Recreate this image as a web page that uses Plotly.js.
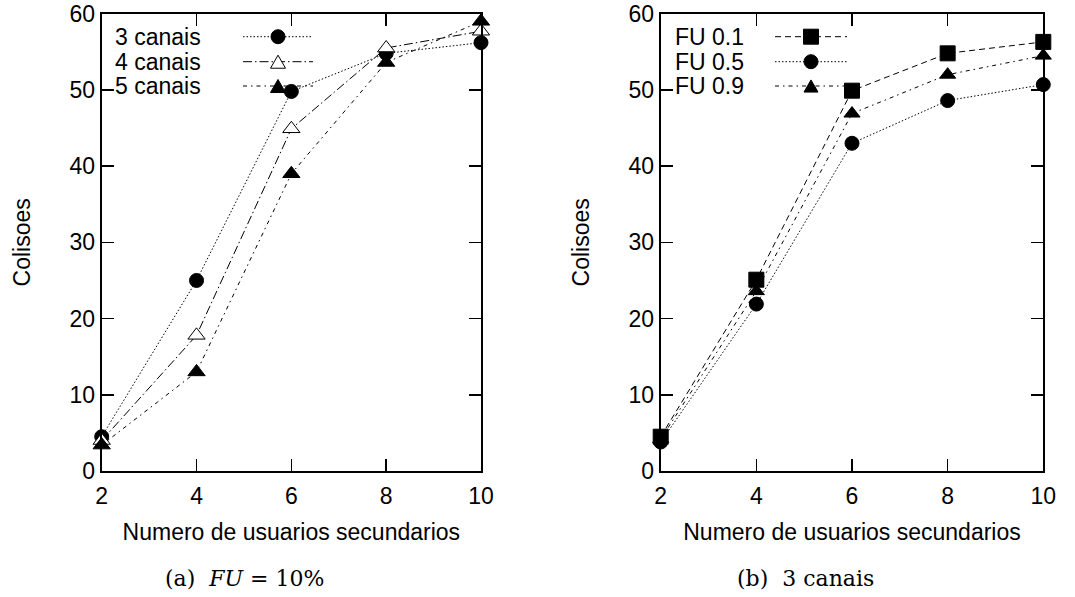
<!DOCTYPE html>
<html>
<head>
<meta charset="utf-8">
<script src="https://cdn.plot.ly/plotly-3.0.1.min.js"></script>
<style>html,body{margin:0;padding:0;background:#fff}#chart{width:1075px;height:597px}</style>
</head>
<body>
<div id="chart"></div>
<script>
// ---- data ----
const usuarios = [2, 4, 6, 8, 10];
const canais3 = [4.5, 25.0, 49.8, 54.8, 56.2];
const canais4 = [4.0, 17.8, 44.9, 55.5, 57.7];
const canais5 = [3.4, 13.0, 39.0, 53.6, 59.0];
const fu01 = [4.5, 25.1, 49.9, 54.8, 56.3];
const fu05 = [3.8, 21.9, 43.0, 48.6, 50.7];
const fu09 = [4.2, 23.6, 46.9, 52.0, 54.5];
const namesA = ['3 canais', '4 canais', '5 canais'];
const namesB = ['FU 0.1', 'FU 0.5', 'FU 0.9'];
const xTicks = [2, 4, 6, 8, 10];
const yTicks = [0, 10, 20, 30, 40, 50, 60];

// ---- styles ----
const W = 1075, H = 597;
const fx = p => p / W, fy = p => 1 - p / H;
const FONT = 'Liberation Sans, Arial, sans-serif';
const SERIF = 'DejaVu Serif, Liberation Serif, serif';
const FS = 23;
const dotted = '1.5px,2px';
const longDashDot = '9px,3px,1.5px,3px';
const dashDot = '4px,4px,1.5px,4px';
const dashed = '6px,4px';

const stylesA = [
  {dash: dotted, symbol: 'circle', fill: '#000', size: 14},
  {dash: longDashDot, symbol: 'triangle-up', fill: '#fff', size: 15},
  {dash: dashDot, symbol: 'triangle-up', fill: '#000', size: 15}
];
const stylesB = [
  {dash: dashed, symbol: 'square', fill: '#000', size: 15},
  {dash: dotted, symbol: 'circle', fill: '#000', size: 14},
  {dash: dashDot, symbol: 'triangle-up', fill: '#000', size: 14}
];

function mk(y, name, st, xa, ya) {
  return {
    x: usuarios, y: y, name: name, type: 'scatter', mode: 'lines+markers',
    xaxis: xa, yaxis: ya, cliponaxis: false, showlegend: false,
    line: {color: '#000', width: 1, dash: st.dash},
    marker: {symbol: st.symbol, size: st.size, color: st.fill, line: {color: '#000', width: 1}}
  };
}

const seriesA = [canais3, canais4, canais5];
const seriesB = [fu01, fu05, fu09];
const traces = [];
seriesA.forEach((s, i) => traces.push(mk(s, namesA[i], stylesA[i], 'x', 'y')));
seriesB.forEach((s, i) => traces.push(mk(s, namesB[i], stylesB[i], 'x2', 'y2')));

const yTop = fy(13.7), yBot = fy(471);
function xax(d) {
  return {
    domain: d, range: [2, 10], tickvals: xTicks, ticktext: xTicks.map(String),
    ticks: 'inside', ticklen: 12, tickwidth: 1.5, tickcolor: '#000',
    showline: true, linecolor: '#000', linewidth: 2, mirror: 'allticks',
    showgrid: false, zeroline: false, fixedrange: true, ticklabelstandoff: 3,
    tickfont: {family: FONT, size: FS, color: '#000'},
    title: {text: 'Numero de usuarios secundarios', font: {family: FONT, size: FS, color: '#000'}, standoff: 16}
  };
}
function yax(anchor) {
  return {
    domain: [yBot, yTop], range: [0, 60], tickvals: yTicks, ticktext: yTicks.map(String),
    anchor: anchor,
    ticks: 'inside', ticklen: 12, tickwidth: 1.5, tickcolor: '#000',
    showline: true, linecolor: '#000', linewidth: 2, mirror: 'allticks',
    showgrid: false, zeroline: false, fixedrange: true,
    tickfont: {family: FONT, size: FS, color: '#000'},
    title: {text: 'Colisoes', font: {family: FONT, size: FS, color: '#000'}, standoff: 32}
  };
}

// ---- legend (drawn inside each panel: text, then sample line with marker) ----
const shapes = [], annotations = [];
function triPath(cx, cy, s) {
  const h = s * 0.87;
  return 'M ' + fx(cx - s / 2) + ' ' + fy(cy + h / 2) + ' L ' + fx(cx + s / 2) + ' ' + fy(cy + h / 2) +
         ' L ' + fx(cx) + ' ' + fy(cy - h / 2) + ' Z';
}
function legend(names, styles, textX, lx0, lx1, rows) {
  names.forEach((n, i) => {
    const cy = rows[i], st = styles[i], cx = (lx0 + lx1) / 2;
    annotations.push({xref: 'paper', yref: 'paper', x: fx(textX), y: fy(cy), xanchor: 'left', yanchor: 'middle',
      text: n, showarrow: false, font: {family: FONT, size: FS, color: '#000'}});
    shapes.push({type: 'line', xref: 'paper', yref: 'paper', x0: fx(lx0), x1: fx(lx1), y0: fy(cy), y1: fy(cy),
      line: {color: '#000', width: 1, dash: st.dash}});
    const r = st.size / 2;
    if (st.symbol === 'circle') {
      shapes.push({type: 'circle', xref: 'paper', yref: 'paper', x0: fx(cx - r), x1: fx(cx + r), y0: fy(cy + r), y1: fy(cy - r),
        fillcolor: st.fill, line: {color: '#000', width: 1}});
    } else if (st.symbol === 'square') {
      shapes.push({type: 'rect', xref: 'paper', yref: 'paper', x0: fx(cx - r), x1: fx(cx + r), y0: fy(cy + r), y1: fy(cy - r),
        fillcolor: st.fill, line: {color: '#000', width: 1}});
    } else {
      shapes.push({type: 'path', xref: 'paper', yref: 'paper', path: triPath(cx, cy, st.size),
        fillcolor: st.fill, line: {color: '#000', width: 1}});
    }
  });
}
legend(namesA, stylesA, 113, 243, 313, [36.7, 61.7, 86]);
legend(namesB, stylesB, 673, 775, 847, [36.7, 61.7, 86]);

// captions
annotations.push({xref: 'paper', yref: 'paper', x: fx(244), y: fy(578), xanchor: 'center', yanchor: 'middle', showarrow: false,
  text: '(a)  <i>FU</i> = 10%', font: {family: SERIF, size: 22, color: '#000'}});
annotations.push({xref: 'paper', yref: 'paper', x: fx(805), y: fy(578), xanchor: 'center', yanchor: 'middle', showarrow: false,
  text: '(b)  3 canais', font: {family: SERIF, size: 22, color: '#000'}});

const layout = {
  width: W, height: H,
  margin: {l: 0, r: 0, t: 0, b: 0},
  paper_bgcolor: '#fff', plot_bgcolor: '#fff',
  showlegend: false,
  xaxis: Object.assign(xax([fx(101.7), fx(481)]), {anchor: 'y'}),
  yaxis: yax('x'),
  xaxis2: Object.assign(xax([fx(660.7), fx(1043.3)]), {anchor: 'y2'}),
  yaxis2: yax('x2'),
  shapes: shapes,
  annotations: annotations
};

Plotly.newPlot('chart', traces, layout, {displayModeBar: false, staticPlot: true});
</script>
</body>
</html>
